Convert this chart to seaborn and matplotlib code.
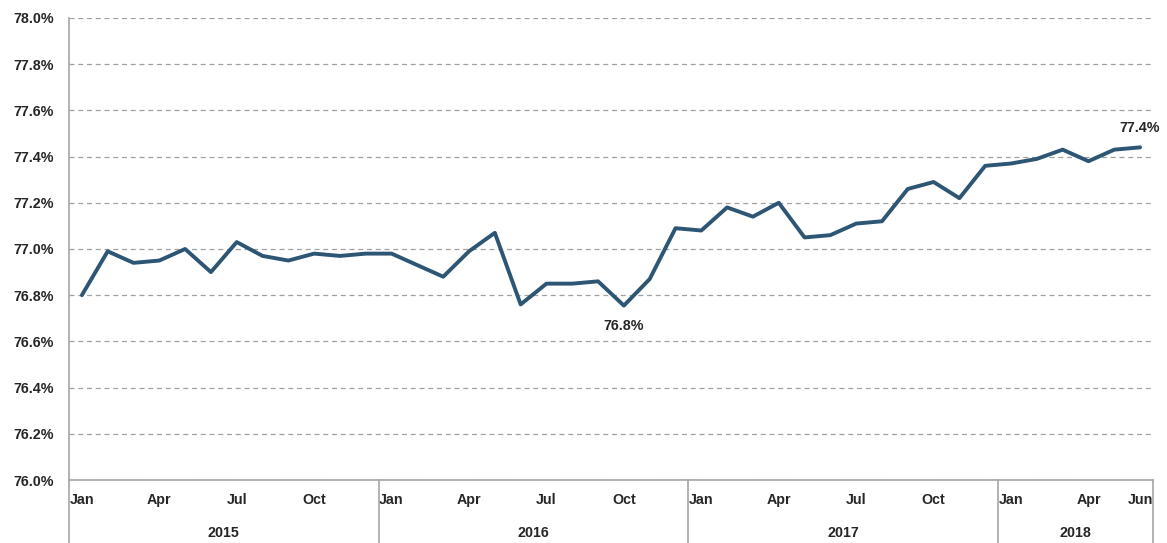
import numpy as np
import pandas as pd
import matplotlib
matplotlib.use('Agg')
import matplotlib.pyplot as plt
import matplotlib.transforms as mtransforms
from matplotlib.lines import Line2D
import seaborn as sns

# monthly series, Jan 2015 - Jun 2018 (percent)
years = [2015, 2016, 2017, 2018]
month_names = ['Jan', 'Feb', 'Mar', 'Apr', 'May', 'Jun',
               'Jul', 'Aug', 'Sep', 'Oct', 'Nov', 'Dec']
months_per_year = [12, 12, 12, 6]
values = [76.80, 76.99, 76.94, 76.95, 77.00, 76.90, 77.03, 76.97, 76.95, 76.98, 76.97, 76.98,
          76.98, 76.93, 76.88, 76.99, 77.07, 76.76, 76.85, 76.85, 76.86, 76.755, 76.87, 77.09,
          77.08, 77.18, 77.14, 77.20, 77.05, 77.06, 77.11, 77.12, 77.26, 77.29, 77.22, 77.36,
          77.37, 77.39, 77.43, 77.38, 77.43, 77.44]
y_ticks = [76.0, 76.2, 76.4, 76.6, 76.8, 77.0, 77.2, 77.4, 77.6, 77.8, 78.0]
shown_months = ['Jan', 'Apr', 'Jul', 'Oct']

rows = []
for y, n in zip(years, months_per_year):
    for m in range(n):
        rows.append((y, month_names[m]))
df = pd.DataFrame(rows, columns=['year', 'month'])
df['value'] = values
df['idx'] = np.arange(len(df))

sns.set_style('white')
plt.rcParams['font.family'] = ['Liberation Sans', 'DejaVu Sans']
plt.rcParams['font.weight'] = 'bold'
fs = 10.3

line_color = '#2D5574'
axis_grey = '#A6A6A6'

fig = plt.figure(figsize=(11.67, 5.43), dpi=100)
ax_h = 0.9669 - 0.116
ax = fig.add_axes([0.0591, 0.116, 0.988 - 0.0591, ax_h])

sns.lineplot(data=df, x='idx', y='value', color=line_color, linewidth=2.8, ax=ax)

ax.set_xlim(-0.5, len(df) - 0.5)
ax.set_ylim(76.0, 78.0)
ax.set_yticks(y_ticks)
ax.set_yticklabels([f'{t:.1f}%' for t in y_ticks], fontsize=fs, fontweight='bold')
ax.yaxis.grid(True, linestyle=(0, (4, 3)), color='#A0A0A0', linewidth=0.9)
ax.set_xlabel('')
ax.set_ylabel('')

# month ticks: quarters plus the last month
tick_idx = [i for i, m in enumerate(df['month']) if m in shown_months] + [len(df) - 1]
ax.set_xticks(tick_idx)
ax.set_xticklabels([df['month'][i] for i in tick_idx], fontsize=fs, fontweight='bold')
ax.tick_params(axis='x', length=0, pad=9)
ax.tick_params(axis='y', direction='inout', length=10, color=axis_grey, width=1, pad=6)

for s in ['top', 'right']:
    ax.spines[s].set_visible(False)
for s in ['left', 'bottom']:
    ax.spines[s].set_color(axis_grey)
    ax.spines[s].set_linewidth(1.2)

# multi-level category axis: separators and year labels
trans = mtransforms.blended_transform_factory(ax.transData, ax.transAxes)
bottom = -0.116 / ax_h
year_y = -53 / 462.0
starts = df.index[df['month'] == 'Jan'].tolist()
bounds = [s - 0.5 for s in starts] + [len(df) - 0.5]
for b in bounds:
    ax.add_line(Line2D([b, b], [0, bottom], transform=trans, color=axis_grey,
                       linewidth=1.2, clip_on=False))
for yr, a, b in zip(years, bounds[:-1], bounds[1:]):
    ax.text((a + b) / 2, year_y, str(yr), transform=trans, ha='center', va='center',
            fontsize=fs, fontweight='bold')

# data labels: minimum and last value
imin = int(np.argmin(values))
ax.annotate(f'{values[imin]:.1f}%', (imin, values[imin]), xytext=(0, -15),
            textcoords='offset points', ha='center', va='center',
            fontsize=fs, fontweight='bold')
ax.annotate(f'{values[-1]:.1f}%', (len(df) - 1, values[-1]), xytext=(0, 14),
            textcoords='offset points', ha='center', va='center',
            fontsize=fs, fontweight='bold')

fig.savefig('out.png', dpi=100)
